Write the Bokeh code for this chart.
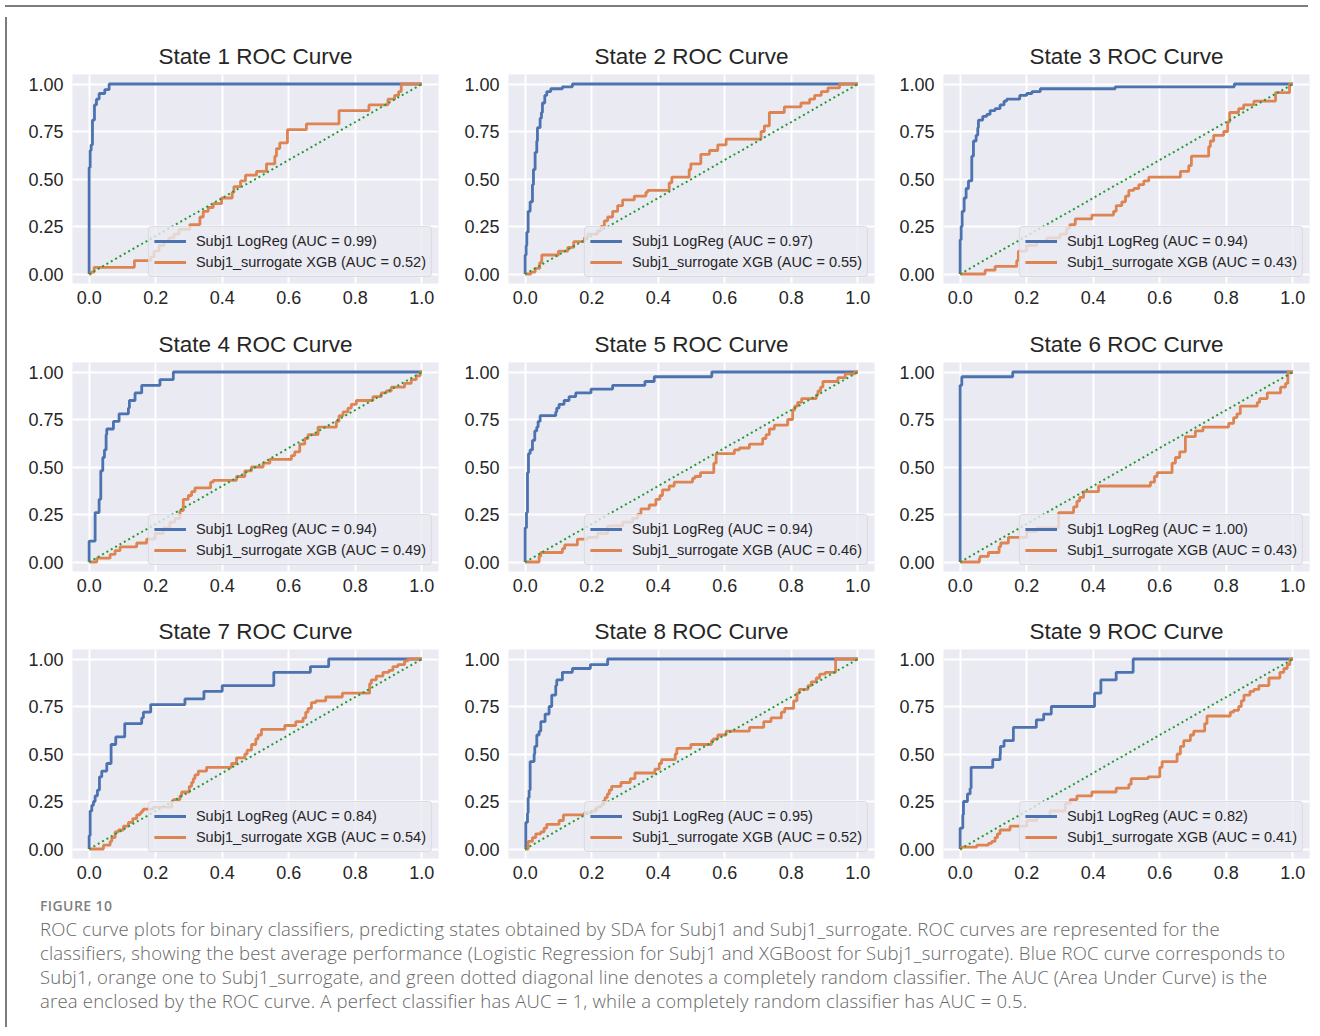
from bokeh.plotting import figure
from bokeh.models import Range1d, FixedTicker, PrintfTickFormatter, Div
from bokeh.layouts import row, column
from bokeh.embed import file_html
from bokeh.resources import INLINE

# ---------------- data ----------------
STATES = [1, 2, 3, 4, 5, 6, 7, 8, 9]
AUC_LOGREG = [0.99, 0.97, 0.94, 0.94, 0.94, 1.00, 0.84, 0.95, 0.82]
AUC_XGB = [0.52, 0.55, 0.43, 0.49, 0.46, 0.43, 0.54, 0.52, 0.41]
X_TICKS = [0.0, 0.2, 0.4, 0.6, 0.8, 1.0]
Y_TICKS = [0.0, 0.25, 0.5, 0.75, 1.0]
RANDOM_FPR = [0.0, 1.0]
RANDOM_TPR = [0.0, 1.0]

s1_logreg_fpr = [0, 0, 0.003, 0.006, 0.01, 0.016, 0.022, 0.03, 0.047, 0.06, 1]
s1_logreg_tpr = [0, 0.56, 0.65, 0.68, 0.81, 0.89, 0.92, 0.95, 0.97, 1.0, 1]
s1_xgb_fpr = [0, 0.005, 0.015, 0.136, 0.185, 0.195, 0.21, 0.225, 0.24, 0.255, 0.27, 0.303, 0.333, 0.343, 0.358, 0.373, 0.398, 0.43, 0.435, 0.455, 0.47, 0.503, 0.533, 0.558, 0.563, 0.573, 0.596, 0.653, 0.751, 0.841, 0.898, 0.918, 0.93, 0.938, 1]
s1_xgb_tpr = [0, 0.01, 0.035, 0.07, 0.09, 0.12, 0.15, 0.17, 0.19, 0.21, 0.235, 0.26, 0.30, 0.33, 0.35, 0.37, 0.40, 0.43, 0.46, 0.49, 0.52, 0.54, 0.58, 0.62, 0.66, 0.69, 0.76, 0.79, 0.86, 0.89, 0.92, 0.94, 0.96, 1.0, 1]

s2_logreg_fpr = [0, 0, 0.003, 0.005, 0.009, 0.015, 0.022, 0.025, 0.03, 0.035, 0.037, 0.045, 0.049, 0.052, 0.059, 0.065, 0.077, 0.112, 0.142, 1]
s2_logreg_tpr = [0, 0.10, 0.15, 0.22, 0.33, 0.38, 0.47, 0.55, 0.64, 0.70, 0.77, 0.82, 0.85, 0.90, 0.94, 0.96, 0.975, 0.985, 1.0, 1]
s2_xgb_fpr = [0, 0.017, 0.03, 0.044, 0.05, 0.1, 0.128, 0.146, 0.178, 0.188, 0.218, 0.228, 0.238, 0.248, 0.263, 0.278, 0.293, 0.328, 0.363, 0.368, 0.433, 0.441, 0.493, 0.498, 0.528, 0.554, 0.579, 0.604, 0.709, 0.719, 0.734, 0.779, 0.829, 0.855, 0.87, 0.89, 0.91, 0.945, 1]
s2_xgb_tpr = [0, 0.01, 0.03, 0.06, 0.10, 0.12, 0.14, 0.17, 0.19, 0.21, 0.23, 0.25, 0.28, 0.30, 0.33, 0.36, 0.39, 0.41, 0.43, 0.44, 0.48, 0.51, 0.55, 0.58, 0.63, 0.65, 0.68, 0.71, 0.75, 0.78, 0.85, 0.88, 0.90, 0.92, 0.94, 0.96, 0.98, 1.0, 1]

s3_logreg_fpr = [0, 0, 0.003, 0.006, 0.012, 0.018, 0.025, 0.035, 0.04, 0.048, 0.053, 0.055, 0.068, 0.08, 0.09, 0.105, 0.12, 0.132, 0.14, 0.179, 0.2, 0.216, 0.241, 0.466, 0.824, 1]
s3_logreg_tpr = [0, 0.18, 0.25, 0.33, 0.40, 0.45, 0.49, 0.62, 0.70, 0.73, 0.77, 0.81, 0.83, 0.84, 0.86, 0.87, 0.89, 0.91, 0.92, 0.94, 0.95, 0.96, 0.975, 0.985, 1.0, 1]
s3_xgb_fpr = [0, 0.075, 0.105, 0.17, 0.175, 0.2, 0.23, 0.26, 0.30, 0.32, 0.33, 0.346, 0.396, 0.461, 0.469, 0.486, 0.497, 0.507, 0.522, 0.537, 0.552, 0.567, 0.662, 0.687, 0.695, 0.747, 0.752, 0.762, 0.792, 0.804, 0.81, 0.837, 0.852, 0.883, 0.948, 0.99, 1]
s3_xgb_tpr = [0, 0.02, 0.04, 0.07, 0.12, 0.15, 0.17, 0.19, 0.21, 0.24, 0.26, 0.29, 0.31, 0.33, 0.36, 0.38, 0.41, 0.44, 0.45, 0.47, 0.49, 0.51, 0.54, 0.57, 0.62, 0.67, 0.70, 0.73, 0.75, 0.80, 0.85, 0.87, 0.89, 0.91, 0.955, 1.0, 1]

s4_logreg_fpr = [0, 0, 0.018, 0.03, 0.035, 0.041, 0.046, 0.051, 0.053, 0.073, 0.09, 0.118, 0.121, 0.138, 0.158, 0.213, 0.253, 1]
s4_logreg_tpr = [0, 0.11, 0.26, 0.33, 0.48, 0.55, 0.59, 0.67, 0.70, 0.74, 0.78, 0.81, 0.85, 0.89, 0.93, 0.96, 1.0, 1]
s4_xgb_fpr = [0, 0.023, 0.063, 0.078, 0.093, 0.143, 0.173, 0.198, 0.223, 0.243, 0.258, 0.273, 0.283, 0.298, 0.308, 0.318, 0.365, 0.373, 0.443, 0.468, 0.488, 0.523, 0.543, 0.608, 0.618, 0.633, 0.648, 0.658, 0.688, 0.743, 0.751, 0.763, 0.778, 0.788, 0.803, 0.853, 0.878, 0.893, 0.908, 0.948, 0.968, 0.983, 0.995, 1]
s4_xgb_tpr = [0, 0.02, 0.04, 0.06, 0.08, 0.10, 0.12, 0.15, 0.18, 0.21, 0.23, 0.27, 0.33, 0.35, 0.37, 0.39, 0.42, 0.43, 0.45, 0.48, 0.50, 0.52, 0.54, 0.56, 0.58, 0.62, 0.65, 0.67, 0.71, 0.74, 0.77, 0.79, 0.81, 0.83, 0.85, 0.87, 0.89, 0.90, 0.92, 0.94, 0.96, 0.98, 1.0, 1]

s5_logreg_fpr = [0, 0, 0.004, 0.007, 0.01, 0.015, 0.022, 0.029, 0.035, 0.039, 0.045, 0.092, 0.095, 0.102, 0.117, 0.132, 0.152, 0.198, 0.263, 0.36, 0.388, 0.561, 1]
s5_logreg_tpr = [0, 0.18, 0.26, 0.47, 0.57, 0.59, 0.64, 0.69, 0.71, 0.74, 0.77, 0.79, 0.81, 0.83, 0.85, 0.87, 0.89, 0.91, 0.93, 0.95, 0.975, 1.0, 1]
s5_xgb_fpr = [0, 0.042, 0.047, 0.112, 0.119, 0.157, 0.188, 0.218, 0.248, 0.293, 0.323, 0.338, 0.348, 0.373, 0.393, 0.405, 0.413, 0.433, 0.448, 0.503, 0.51, 0.527, 0.567, 0.574, 0.629, 0.644, 0.674, 0.714, 0.724, 0.734, 0.749, 0.789, 0.804, 0.81, 0.819, 0.831, 0.875, 0.88, 0.888, 0.895, 0.94, 0.962, 0.99, 1]
s5_xgb_tpr = [0, 0.03, 0.05, 0.07, 0.09, 0.12, 0.13, 0.15, 0.19, 0.21, 0.23, 0.25, 0.28, 0.30, 0.33, 0.35, 0.38, 0.40, 0.42, 0.44, 0.45, 0.47, 0.52, 0.57, 0.59, 0.60, 0.62, 0.65, 0.67, 0.70, 0.72, 0.75, 0.80, 0.82, 0.84, 0.86, 0.88, 0.90, 0.92, 0.95, 0.97, 0.99, 1.0, 1]

s6_logreg_fpr = [0, 0, 0.005, 0.158, 1]
s6_logreg_tpr = [0, 0.93, 0.975, 1.0, 1]
s6_xgb_fpr = [0, 0.058, 0.06, 0.085, 0.117, 0.122, 0.145, 0.2, 0.23, 0.296, 0.341, 0.351, 0.359, 0.371, 0.416, 0.572, 0.584, 0.592, 0.637, 0.647, 0.66, 0.677, 0.707, 0.73, 0.807, 0.822, 0.832, 0.842, 0.893, 0.9, 0.923, 0.963, 0.978, 0.985, 1]
s6_xgb_tpr = [0, 0.02, 0.03, 0.05, 0.08, 0.10, 0.13, 0.16, 0.18, 0.26, 0.29, 0.32, 0.34, 0.37, 0.40, 0.42, 0.45, 0.47, 0.52, 0.55, 0.58, 0.66, 0.69, 0.71, 0.73, 0.76, 0.78, 0.82, 0.84, 0.86, 0.89, 0.92, 0.94, 1.0, 1]

s7_logreg_fpr = [0, 0, 0.003, 0.008, 0.013, 0.018, 0.025, 0.031, 0.038, 0.053, 0.066, 0.08, 0.107, 0.158, 0.163, 0.185, 0.288, 0.345, 0.4, 0.555, 0.665, 0.72, 1]
s7_logreg_tpr = [0, 0.07, 0.20, 0.23, 0.25, 0.28, 0.31, 0.38, 0.41, 0.45, 0.55, 0.59, 0.66, 0.69, 0.72, 0.76, 0.79, 0.83, 0.86, 0.93, 0.96, 1.0, 1]
s7_xgb_fpr = [0, 0.043, 0.063, 0.068, 0.078, 0.088, 0.103, 0.118, 0.131, 0.143, 0.153, 0.158, 0.163, 0.193, 0.248, 0.253, 0.273, 0.278, 0.301, 0.308, 0.313, 0.318, 0.328, 0.353, 0.428, 0.443, 0.468, 0.475, 0.488, 0.501, 0.508, 0.518, 0.588, 0.621, 0.643, 0.651, 0.658, 0.668, 0.681, 0.711, 0.761, 0.843, 0.848, 0.863, 0.883, 0.901, 0.913, 0.928, 0.948, 0.958, 1]
s7_xgb_tpr = [0, 0.02, 0.04, 0.06, 0.09, 0.10, 0.12, 0.14, 0.16, 0.18, 0.19, 0.20, 0.21, 0.22, 0.25, 0.26, 0.28, 0.30, 0.33, 0.35, 0.37, 0.39, 0.41, 0.43, 0.45, 0.48, 0.50, 0.52, 0.55, 0.58, 0.60, 0.63, 0.65, 0.67, 0.69, 0.72, 0.74, 0.77, 0.78, 0.80, 0.82, 0.87, 0.89, 0.91, 0.93, 0.94, 0.96, 0.97, 0.99, 1.0, 1]

s8_logreg_fpr = [0, 0.002, 0.007, 0.009, 0.012, 0.015, 0.027, 0.029, 0.035, 0.042, 0.047, 0.06, 0.072, 0.08, 0.092, 0.095, 0.112, 0.142, 0.196, 0.248, 1]
s8_logreg_tpr = [0, 0.14, 0.19, 0.27, 0.31, 0.46, 0.50, 0.54, 0.60, 0.62, 0.67, 0.71, 0.75, 0.81, 0.86, 0.89, 0.93, 0.95, 0.97, 1.0, 1]
s8_xgb_fpr = [0, 0.009, 0.022, 0.032, 0.047, 0.057, 0.065, 0.102, 0.115, 0.178, 0.2, 0.215, 0.228, 0.233, 0.24, 0.247, 0.253, 0.26, 0.288, 0.316, 0.33, 0.39, 0.403, 0.41, 0.451, 0.456, 0.498, 0.56, 0.566, 0.579, 0.604, 0.674, 0.717, 0.739, 0.77, 0.78, 0.807, 0.817, 0.824, 0.85, 0.86, 0.875, 0.885, 0.902, 0.933, 1]
s8_xgb_tpr = [0, 0.04, 0.06, 0.08, 0.09, 0.11, 0.13, 0.15, 0.18, 0.19, 0.20, 0.22, 0.23, 0.25, 0.27, 0.29, 0.31, 0.33, 0.35, 0.37, 0.40, 0.42, 0.45, 0.47, 0.50, 0.53, 0.55, 0.57, 0.58, 0.60, 0.62, 0.64, 0.67, 0.69, 0.72, 0.74, 0.78, 0.82, 0.84, 0.86, 0.88, 0.90, 0.92, 0.93, 1.0, 1]

s9_logreg_fpr = [0, 0, 0.008, 0.01, 0.022, 0.03, 0.033, 0.098, 0.12, 0.121, 0.132, 0.16, 0.229, 0.251, 0.274, 0.404, 0.423, 0.469, 0.52, 1]
s9_logreg_tpr = [0, 0.11, 0.18, 0.25, 0.29, 0.32, 0.43, 0.47, 0.50, 0.54, 0.57, 0.64, 0.68, 0.71, 0.75, 0.82, 0.89, 0.93, 1.0, 1]
s9_xgb_fpr = [0, 0.003, 0.05, 0.085, 0.095, 0.105, 0.112, 0.12, 0.15, 0.2, 0.23, 0.27, 0.316, 0.331, 0.351, 0.396, 0.469, 0.507, 0.514, 0.565, 0.6, 0.607, 0.652, 0.662, 0.672, 0.692, 0.702, 0.735, 0.742, 0.812, 0.822, 0.837, 0.845, 0.853, 0.871, 0.883, 0.898, 0.928, 0.961, 0.973, 0.983, 0.991, 1]
s9_xgb_tpr = [0, 0.01, 0.02, 0.03, 0.04, 0.06, 0.08, 0.10, 0.12, 0.15, 0.17, 0.20, 0.24, 0.26, 0.28, 0.30, 0.32, 0.34, 0.37, 0.38, 0.43, 0.46, 0.50, 0.54, 0.57, 0.60, 0.62, 0.66, 0.70, 0.72, 0.73, 0.75, 0.78, 0.81, 0.83, 0.84, 0.86, 0.90, 0.93, 0.95, 0.97, 1.0, 1]

LOGREG_CURVES = [
    (s1_logreg_fpr, s1_logreg_tpr), (s2_logreg_fpr, s2_logreg_tpr), (s3_logreg_fpr, s3_logreg_tpr),
    (s4_logreg_fpr, s4_logreg_tpr), (s5_logreg_fpr, s5_logreg_tpr), (s6_logreg_fpr, s6_logreg_tpr),
    (s7_logreg_fpr, s7_logreg_tpr), (s8_logreg_fpr, s8_logreg_tpr), (s9_logreg_fpr, s9_logreg_tpr),
]
XGB_CURVES = [
    (s1_xgb_fpr, s1_xgb_tpr), (s2_xgb_fpr, s2_xgb_tpr), (s3_xgb_fpr, s3_xgb_tpr),
    (s4_xgb_fpr, s4_xgb_tpr), (s5_xgb_fpr, s5_xgb_tpr), (s6_xgb_fpr, s6_xgb_tpr),
    (s7_xgb_fpr, s7_xgb_tpr), (s8_xgb_fpr, s8_xgb_tpr), (s9_xgb_fpr, s9_xgb_tpr),
]

CAPTION_HEAD = "FIGURE 10"
CAPTION_LINES = [
    "ROC curve plots for binary classifiers, predicting states obtained by SDA for Subj1 and Subj1_surrogate. ROC curves are represented for the",
    "classifiers, showing the best average performance (Logistic Regression for Subj1 and XGBoost for Subj1_surrogate). Blue ROC curve corresponds to",
    "Subj1, orange one to Subj1_surrogate, and green dotted diagonal line denotes a completely random classifier. The AUC (Area Under Curve) is the",
    "area enclosed by the ROC curve. A perfect classifier has AUC = 1, while a completely random classifier has AUC = 0.5.",
]

# ---------------- styling ----------------
BLUE = "#4C72B0"
ORANGE = "#DD8452"
GREEN = "#249a36"
AX_BG = "#EAEAF2"
TXT = "#262626"
FONT = "Liberation Sans"


def panel(k):
    c, r = k % 3, k // 3
    p = figure(
        frame_width=366, frame_height=209,
        x_range=Range1d(-0.05, 1.05), y_range=Range1d(-0.05, 1.05),
        min_border_left=60, min_border_right=[10, 9, 4][c],
        min_border_top=62 if r == 0 else 45, min_border_bottom=[34, 33, 34][r],
        output_backend="svg", toolbar_location=None,
        title=f"State {STATES[k]} ROC Curve",
    )
    p.background_fill_color = AX_BG
    p.border_fill_color = "white"
    p.outline_line_color = None
    p.title.align = "center"
    p.title.text_font = FONT
    p.title.text_font_size = "22.5px"
    p.title.text_font_style = "normal"
    p.title.text_color = TXT
    p.title.standoff = 12

    p.xaxis.ticker = FixedTicker(ticks=X_TICKS)
    p.yaxis.ticker = FixedTicker(ticks=Y_TICKS)
    p.xaxis.formatter = PrintfTickFormatter(format="%.1f")
    p.yaxis.formatter = PrintfTickFormatter(format="%.2f")
    p.axis.axis_line_color = None
    p.axis.major_tick_line_color = None
    p.axis.minor_tick_line_color = None
    p.axis.major_label_text_font = FONT
    p.axis.major_label_text_font_size = "18px"
    p.axis.major_label_text_color = TXT
    p.xaxis.major_label_standoff = 1
    p.yaxis.major_label_standoff = 3
    p.grid.grid_line_color = "white"
    p.grid.grid_line_width = 2

    bf, bt = LOGREG_CURVES[k]
    of, ot = XGB_CURVES[k]
    p.step(bf, bt, mode="after", line_color=BLUE, line_width=2.8,
           legend_label=f"Subj1 LogReg (AUC = {AUC_LOGREG[k]:.2f})")
    p.step(of, ot, mode="after", line_color=ORANGE, line_width=2.8,
           legend_label=f"Subj1_surrogate XGB (AUC = {AUC_XGB[k]:.2f})")
    p.line(RANDOM_FPR, RANDOM_TPR, line_color=GREEN, line_width=2, line_dash="2 3")

    lg = p.legend[0]
    lg.location = "bottom_right"
    lg.margin = 6
    lg.padding = 5
    lg.spacing = 3
    lg.label_height = 18
    lg.glyph_height = 18
    lg.glyph_width = 32
    lg.label_standoff = 10
    lg.label_text_font = FONT
    lg.label_text_font_size = "14.5px"
    lg.label_text_color = TXT
    lg.background_fill_color = AX_BG
    lg.background_fill_alpha = 0.8
    lg.border_line_color = "#CCCCCC"
    lg.border_line_width = 1.5
    try:
        lg.border_radius = 4
    except Exception:
        pass
    return p


panels = [panel(k) for k in range(9)]
grid_rows = [row(*panels[i * 3:(i + 1) * 3]) for i in range(3)]

caption_html = (
    '<div style="font-family:\'Open Sans\',sans-serif;padding-left:23px;margin-top:-2px;">'
    f'<div style="font-size:14px;font-weight:600;line-height:22px;color:#7f7f7f;letter-spacing:0.4px;">{CAPTION_HEAD}</div>'
    '<div style="font-size:18.5px;font-weight:300;line-height:24px;color:#666666;letter-spacing:0.2px;white-space:nowrap;">'
    + "<br>".join(CAPTION_LINES)
    + "</div></div>"
)
caption = Div(text=caption_html, width=1301, height=130)

top_line = Div(text="", width=1303, height=2, styles={"background-color": "#7d7d7d"})
left_line = Div(text="", width=2, height=1010, styles={"background-color": "#7d7d7d"})

layout = column(top_line, row(left_line, column(*grid_rows, caption)))

open("out.html", "w").write(file_html(layout, INLINE))
